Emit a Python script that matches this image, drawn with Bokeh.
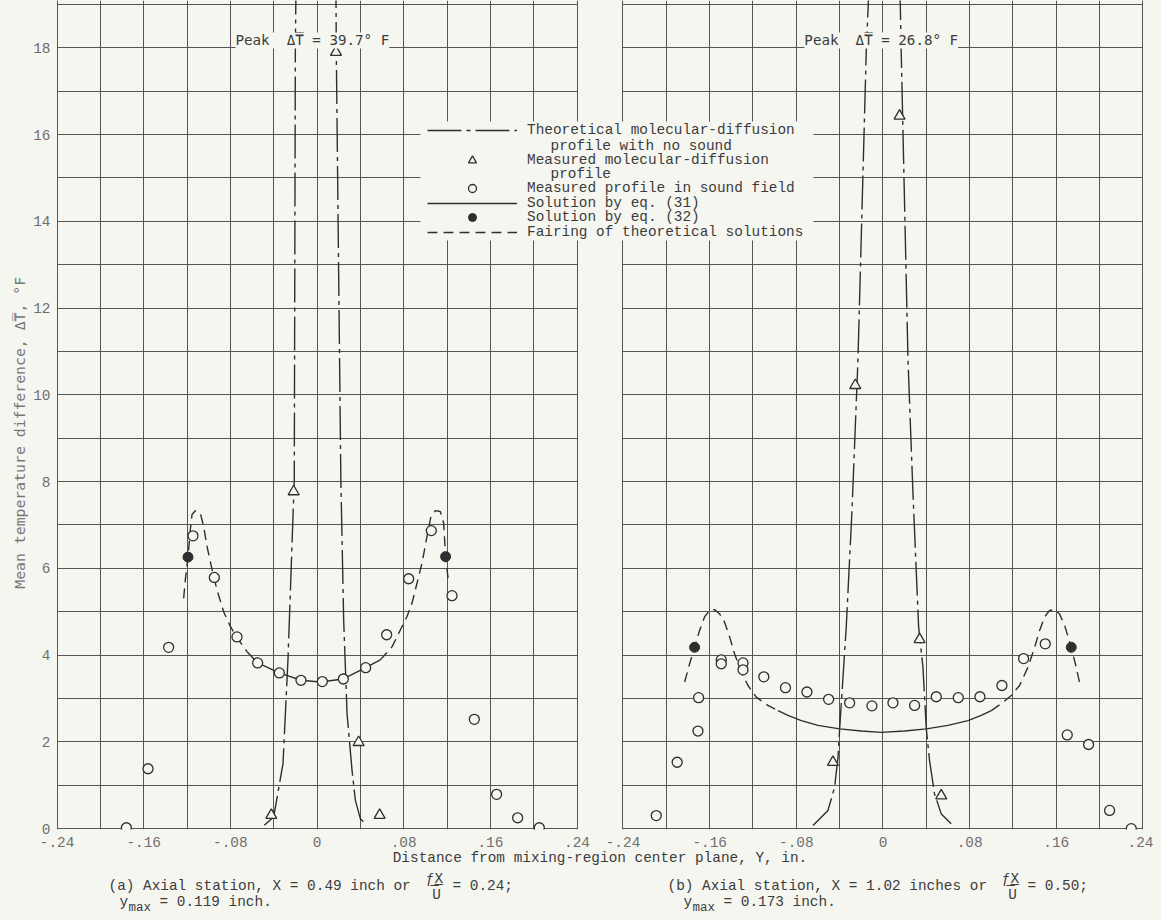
from bokeh.plotting import figure
from bokeh.layouts import column
from bokeh.models import (Range1d, FixedTicker, Grid, Label, Legend, LegendItem,
                          CustomJSTickFormatter, BoxAnnotation)
from bokeh.embed import file_html
from bokeh.resources import INLINE

# ---------------- data ----------------
X_TICKS = [-0.24, -0.16, -0.08, 0.0, 0.08, 0.16, 0.24]
X_TICK_LABELS = ["-.24", "-.16", "-.08", "0", ".08", ".16", ".24"]
Y_TICKS = [0, 2, 4, 6, 8, 10, 12, 14, 16, 18]
X_GRID = [-0.24, -0.20, -0.16, -0.12, -0.08, -0.04, 0.0, 0.04, 0.08, 0.12, 0.16, 0.20, 0.24]
Y_GRID = list(range(0, 20))

PEAK_A = 39.7
PEAK_B = 26.8

# panel (a)
THEO_A_X = [-0.0487, -0.040, -0.0314, -0.0268, -0.021, -0.020, -0.0195, -0.001,
            0.0175, 0.0178, 0.022, 0.0246, 0.0277, 0.0323, 0.0354, 0.040, 0.046]
THEO_A_Y = [0.08, 0.27, 1.5, 3.9, 8.04, 18.0, 19.2, PEAK_A,
            19.2, 17.9, 8.04, 4.81, 2.66, 1.35, 0.65, 0.23, 0.08]
TRI_A_X = [-0.0422, -0.0216, 0.0175, 0.0384, 0.0578]
TRI_A_Y = [0.31, 7.77, 17.9, 1.99, 0.31]
CIRC_A_X = [-0.176, -0.156, -0.137, -0.1145, -0.0948, -0.0739, -0.0548, -0.0348, -0.0148, 0.0049,
            0.0243, 0.0449, 0.0643, 0.0846, 0.1055, 0.1246, 0.1452, 0.1658, 0.1852, 0.2052]
CIRC_A_Y = [0.02, 1.38, 4.18, 6.75, 5.79, 4.42, 3.82, 3.59, 3.42, 3.39,
            3.45, 3.71, 4.47, 5.76, 6.87, 5.37, 2.52, 0.79, 0.25, 0.02]
SOL31_A_X = [-0.0646, -0.0548, -0.0348, -0.0148, 0.003, 0.0243, 0.0449, 0.0584]
SOL31_A_Y = [4.08, 3.82, 3.59, 3.42, 3.38, 3.45, 3.71, 3.89]
SOL32_A_X = [-0.1191, 0.1187]
SOL32_A_Y = [6.26, 6.27]
FAIR_A_LX = [-0.1231, -0.1216, -0.1191, -0.1170, -0.1154, -0.1123, -0.1077, -0.1047, -0.1015,
             -0.0969, -0.0923, -0.0862, -0.0800, -0.0724, -0.0646]
FAIR_A_LY = [5.31, 5.73, 6.26, 6.89, 7.24, 7.33, 7.27, 6.97, 6.50, 5.97, 5.50, 5.00, 4.66, 4.35, 4.08]
FAIR_A_RX = [0.0584, 0.0692, 0.0769, 0.0831, 0.0877, 0.0923, 0.0969, 0.1015, 0.1052, 0.1092,
             0.1138, 0.1169, 0.1187, 0.1215]
FAIR_A_RY = [3.89, 4.19, 4.58, 4.89, 5.20, 5.66, 6.12, 6.73, 7.20, 7.33, 7.31, 7.04, 6.27, 5.66]

# panel (b)
THEO_B_X = [-0.0646, -0.0508, -0.0447, -0.0415, -0.040, -0.0339, -0.0286, -0.0231, -0.0154, -0.0136,
            0.0015, 0.0160, 0.0168, 0.0231, 0.0277, 0.0329, 0.0369, 0.040, 0.043, 0.0476, 0.0538, 0.063]
THEO_B_Y = [0.07, 0.42, 0.95, 1.65, 2.30, 4.65, 7.34, 10.8, 17.95, 19.0,
            PEAK_B, 19.0, 17.95, 10.8, 7.72, 4.65, 3.72, 2.30, 1.57, 0.80, 0.34, 0.11]
TRI_B_X = [-0.0462, -0.0256, 0.0153, 0.0338, 0.0538]
TRI_B_Y = [1.53, 10.22, 16.43, 4.36, 0.76]
CIRC_B_X = [-0.2093, -0.190, -0.1708, -0.1702, -0.1493, -0.1493, -0.1292, -0.1292, -0.110, -0.090,
            -0.0702, -0.0502, -0.0308, -0.0102, 0.0092, 0.0292, 0.0492, 0.0695, 0.0895, 0.1098,
            0.1298, 0.1498, 0.1701, 0.1898, 0.2092, 0.2292]
CIRC_B_Y = [0.30, 1.53, 2.25, 3.02, 3.89, 3.80, 3.82, 3.66, 3.50, 3.25,
            3.15, 2.98, 2.90, 2.83, 2.90, 2.84, 3.04, 3.02, 3.04, 3.30,
            3.92, 4.26, 2.16, 1.94, 0.42, 0.0]
SOL31_B_X = [-0.0969, -0.0877, -0.0754, -0.0600, -0.0400, -0.0200, -0.0016, 0.020, 0.040, 0.060,
             0.0785, 0.0907, 0.100]
SOL31_B_Y = [2.72, 2.61, 2.49, 2.38, 2.30, 2.25, 2.22, 2.25, 2.30, 2.38, 2.49, 2.61, 2.72]
SOL32_B_X = [-0.1739, 0.1738]
SOL32_B_Y = [4.18, 4.18]
FAIR_B_LX = [-0.1831, -0.1785, -0.1739, -0.1693, -0.1647, -0.1601, -0.1554, -0.1508, -0.1462,
             -0.1416, -0.1370, -0.1308, -0.1246, -0.1170, -0.1062, -0.0969]
FAIR_B_LY = [3.38, 3.80, 4.18, 4.57, 4.88, 5.03, 5.05, 4.95, 4.76, 4.42, 4.03, 3.61, 3.30, 3.03, 2.84, 2.72]
FAIR_B_RX = [0.100, 0.1092, 0.1184, 0.1261, 0.1338, 0.140, 0.1446, 0.1492, 0.1538, 0.1584,
             0.163, 0.1676, 0.1738, 0.1784, 0.1824]
FAIR_B_RY = [2.72, 2.88, 3.07, 3.30, 3.72, 4.18, 4.57, 4.88, 5.03, 5.05, 4.95, 4.69, 4.18, 3.72, 3.26]

LEGEND_LABELS = ["Theoretical molecular-diffusion", "profile with no sound",
                 "Measured molecular-diffusion", "profile",
                 "Measured profile in sound field", "Solution by eq. (31)",
                 "Solution by eq. (32)", "Fairing of theoretical solutions"]

CAPTION_A = ["(a) Axial station, X = 0.49 inch or", "= 0.24;", "= 0.119 inch."]
CAPTION_B = ["(b) Axial station, X = 1.02 inches or", "= 0.50;", "= 0.173 inch."]

# ---------------- style / geometry ----------------
FONT = "Liberation Mono"
FONT_OL = "DejaVu Sans Mono"   # handles the combining overline over ΔT cleanly
FS = "14.4px"
BG = "#f6f6f1"
INK = "#2e2e2e"
GRID_C = "#555555"
TXT = "#3c3c3c"
TICK_TXT = "#6e6e6e"
DT = "\u0394\u0305T\u0305"      # ΔT with overline

PXU = 43.333 / 0.04            # pixels per x unit
GAP_U = 46 / PXU               # blank gap between the two panels
OFF = 0.48 + GAP_U             # shift of panel (b) coordinates
PAD = 0.0005
X0, X1 = -0.24 - PAD, 0.24 + PAD + OFF
FRAME_W = int(round((X1 - X0) * PXU))
FRAME_H = 829
FL = 56                         # frame left (page px)
FR = 10
FB = FRAME_H                    # frame bottom (page px)
BOTTOM = 40
Y1 = (FRAME_H - 0.02 * 43.333) / 43.333 - 0.02

p = figure(frame_width=FRAME_W, frame_height=FRAME_H,
           x_range=Range1d(X0, X1), y_range=Range1d(-0.02, Y1),
           output_backend="svg", toolbar_location=None,
           min_border_left=FL, min_border_right=FR, min_border_top=0, min_border_bottom=BOTTOM,
           background_fill_color=BG, border_fill_color=BG, outline_line_color=None)
p.extra_x_ranges = {"b": Range1d(X0 - OFF, X1 - OFF)}

# axes
p.xaxis.ticker = FixedTicker(ticks=X_TICKS + [t + OFF for t in X_TICKS])
p.xaxis.formatter = CustomJSTickFormatter(
    args=dict(vals=X_TICKS, labs=X_TICK_LABELS, off=OFF, lim=0.24 + GAP_U / 2),
    code="""
const v = tick > lim ? tick - off : tick;
for (let i = 0; i < vals.length; i++) { if (Math.abs(vals[i] - v) < 1e-6) return labs[i]; }
return "";
""")
p.yaxis.ticker = FixedTicker(ticks=Y_TICKS)
for ax in (p.xaxis, p.yaxis):
    ax.axis_line_color = None
    ax.major_tick_line_color = None
    ax.minor_tick_line_color = None
    ax.major_tick_out = 0
    ax.major_tick_in = 0
    ax.minor_tick_out = 0
    ax.minor_tick_in = 0
    ax.major_label_text_font = FONT
    ax.major_label_text_font_size = FS
    ax.major_label_text_color = TICK_TXT
    ax.axis_label_text_font = FONT
    ax.axis_label_text_font_style = "normal"
p.xaxis.major_label_standoff = 7
p.xaxis.axis_label = "Distance from mixing-region center plane, Y, in."
p.xaxis.axis_label_text_font_size = FS
p.xaxis.axis_label_text_color = TXT
p.xaxis.axis_label_standoff = 0
p.yaxis.major_label_standoff = 6
# trailing no-break spaces move the (centred) rotated title a little lower, as in the original
p.yaxis.axis_label = "Mean temperature difference, " + DT + ", \u00b0F" + "\u00a0" * 4
p.yaxis.axis_label_text_font = FONT_OL
p.yaxis.axis_label_text_font_size = "14.8px"
p.yaxis.axis_label_text_color = "#777777"
p.yaxis.axis_label_standoff = 2

# grids
HAS_CB = "cross_bounds" in Grid.properties()
for g in (p.xgrid, p.ygrid):
    g.grid_line_color = GRID_C
    g.grid_line_width = 1
    g.grid_line_alpha = 1
p.xgrid.ticker = FixedTicker(ticks=X_GRID)
p.ygrid.ticker = FixedTicker(ticks=Y_GRID)
if HAS_CB:
    p.ygrid.cross_bounds = (-0.24, 0.24)
    p.add_layout(Grid(dimension=1, ticker=FixedTicker(ticks=Y_GRID), x_range_name="b",
                      cross_bounds=(-0.24, 0.24), grid_line_color=GRID_C, grid_line_width=1))
else:
    p.add_layout(BoxAnnotation(left=0.24 + 0.0006, right=0.24 + GAP_U - 0.0006,
                               fill_color=BG, fill_alpha=1, line_color=None, level="underlay"))
p.add_layout(Grid(dimension=0, ticker=FixedTicker(ticks=X_GRID), x_range_name="b",
                  grid_line_color=GRID_C, grid_line_width=1))

# ---------------- glyphs ----------------
LW = 1.4
DASHDOT = "34 5 4 5"
DASH = "10 6"


def panel(theo_x, theo_y, tri_x, tri_y, circ_x, circ_y, s31x, s31y, s32x, s32y,
          flx, fly, frx, fry, rng):
    kw = dict(x_range_name=rng)
    r_theo = p.line(theo_x, theo_y, line_color=INK, line_width=LW, line_dash=DASHDOT, **kw)
    r_s31 = p.line(s31x, s31y, line_color=INK, line_width=LW, **kw)
    r_fair = p.line(flx, fly, line_color=INK, line_width=LW, line_dash=DASH, **kw)
    p.line(frx, fry, line_color=INK, line_width=LW, line_dash=DASH, **kw)
    r_tri = p.scatter(tri_x, tri_y, marker="triangle", size=11, fill_color=BG,
                      line_color=INK, line_width=1.3, **kw)
    r_circ = p.scatter(circ_x, circ_y, marker="circle", size=10, fill_color=BG,
                       line_color=INK, line_width=1.3, **kw)
    r_s32 = p.scatter(s32x, s32y, marker="circle", size=10, fill_color=INK,
                      line_color=INK, line_width=1, **kw)
    return r_theo, r_tri, r_circ, r_s31, r_s32, r_fair


rA = panel(THEO_A_X, THEO_A_Y, TRI_A_X, TRI_A_Y, CIRC_A_X, CIRC_A_Y, SOL31_A_X, SOL31_A_Y,
           SOL32_A_X, SOL32_A_Y, FAIR_A_LX, FAIR_A_LY, FAIR_A_RX, FAIR_A_RY, "default")
panel(THEO_B_X, THEO_B_Y, TRI_B_X, TRI_B_Y, CIRC_B_X, CIRC_B_Y, SOL31_B_X, SOL31_B_Y,
      SOL32_B_X, SOL32_B_Y, FAIR_B_LX, FAIR_B_LY, FAIR_B_RX, FAIR_B_RY, "b")

# peak labels
for px, peak, rng in ((-0.0043, PEAK_A, "default"), (-0.0016, PEAK_B, "b")):
    p.add_layout(Label(x=px, y=18.17, x_range_name=rng,
                       text=f"Peak\u00a0\u00a0{DT} = {peak}\u00b0 F",
                       text_font=FONT_OL, text_font_size="14.2px", text_color=TXT,
                       text_align="center", text_baseline="middle",
                       background_fill_color=BG, background_fill_alpha=1))


# ---------------- legend ----------------
def sx(page_x):
    return page_x - FL


def sy(page_y):
    return FB - page_y


p.add_layout(BoxAnnotation(left=sx(420), right=sx(813), top=sy(121), bottom=sy(240),
                           left_units="screen", right_units="screen",
                           top_units="screen", bottom_units="screen",
                           fill_color=BG, fill_alpha=1, line_color=None))

rows = [(130, LEGEND_LABELS[0], rA[0]), (160, LEGEND_LABELS[2], rA[1]),
        (188.3, LEGEND_LABELS[4], rA[2]), (202.7, LEGEND_LABELS[5], rA[3]),
        (216.7, LEGEND_LABELS[6], rA[4]), (231.7, LEGEND_LABELS[7], rA[5])]
for yc, lab, r in rows:
    lg = Legend(items=[LegendItem(label=lab, renderers=[r])],
                location=(sx(427), sy(yc + 10)),
                glyph_width=90, glyph_height=20, label_height=20, label_standoff=10,
                padding=0, margin=0, spacing=0,
                label_text_font=FONT, label_text_font_size=FS, label_text_color=TXT,
                border_line_color=None, background_fill_alpha=0)
    p.add_layout(lg)
for yc, lab in ((145, LEGEND_LABELS[1]), (173.3, LEGEND_LABELS[3])):
    p.add_layout(Label(x=sx(550), y=sy(yc), x_units="screen", y_units="screen", text=lab,
                       text_font=FONT, text_font_size=FS, text_color=TXT,
                       text_baseline="middle"))

# ---------------- captions (separate strip below, frame aligned with main frame) ----------------
CAP_TOP = FRAME_H + BOTTOM
CAP_H = 919 - CAP_TOP
c = figure(frame_width=FRAME_W, frame_height=CAP_H, x_range=Range1d(0, FRAME_W),
           y_range=Range1d(0, CAP_H), output_backend="svg", toolbar_location=None,
           x_axis_location=None, y_axis_location=None,
           min_border_left=FL, min_border_right=FR, min_border_top=0, min_border_bottom=0,
           background_fill_color=BG, border_fill_color=BG, outline_line_color=None)
c.grid.visible = False


def cap(px_, py_, text, size=FS, align="left"):
    c.add_layout(Label(x=px_ - FL, y=CAP_TOP + CAP_H - py_, x_units="screen", y_units="screen",
                       text=text, text_font=FONT, text_font_size=size, text_color=TXT,
                       text_baseline="middle", text_align=align))


for (x1, xf, x2, xy, txt) in ((108, 434, 452, 119, CAPTION_A), (667, 1010, 1027, 683, CAPTION_B)):
    cap(x1, 885, txt[0])
    cap(xf, 878, "\u0192\u0332X\u0332", align="center")
    cap(xf + 2, 894, "U", align="center")
    cap(x2, 885, txt[1])
    cap(xy, 901, "y")
    cap(xy + 9, 907, "max", size="12.5px")
    cap(xy + 40, 901, txt[2])

layout = column(p, c, spacing=0)
html = file_html(layout, INLINE, title="Mean temperature difference")
html = html.replace("</head>", "<style>body{background:%s;}</style></head>" % BG, 1)
open("out.html", "w").write(html)
